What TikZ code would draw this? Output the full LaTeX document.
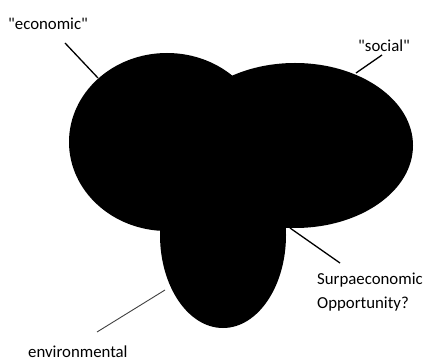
\documentclass[tikz,border=0pt]{standalone}
\usepackage{fontspec}
\setmainfont{Carlito}[Ligatures=TeXOff]
\usetikzlibrary{shapes.geometric}
\begin{document}
\begin{tikzpicture}[x=1pt,y=-1pt,
  blob/.style={ellipse,fill=black,draw=none,inner sep=0pt},
  lbl/.style={anchor=base west,inner sep=0pt,font=\fontsize{16.8}{18}\selectfont},
  lead/.style={draw=black,line width=1.3pt}]
\useasboundingbox (0,0) rectangle (425,363);
\node[blob,minimum width=196pt,minimum height=178pt] (eco) at (167,142) {};
\node[blob,minimum width=236pt,minimum height=165pt] (soc) at (295,145.5) {};
\node[blob,minimum width=126pt,minimum height=186pt] (env) at (223,235) {};
\node[lbl] (teco) at (8,30) {"economic"};
\node[lbl] (tsoc) at (358,52) {"social"};
\node[lbl] (tsur) at (317,284) {Surpaeconomic};
\node[lbl] (topp) at (317,308) {Opportunity?};
\node[lbl] (tenv) at (28,357) {environmental};
\coordinate (a1) at (65,43);
\coordinate (a2) at (98,78);
\coordinate (b1) at (382,55);
\coordinate (b2) at (356,73);
\coordinate (c1) at (290,228);
\coordinate (c2) at (340,263);
\coordinate (d1) at (97,332);
\coordinate (d2) at (165,290);
\draw[lead] (a1) -- (a2);
\draw[lead] (b1) -- (b2);
\draw[lead] (c1) -- (c2);
\draw[draw=black!75,line width=0.9pt] (d1) -- (d2);
\end{tikzpicture}
\end{document}
